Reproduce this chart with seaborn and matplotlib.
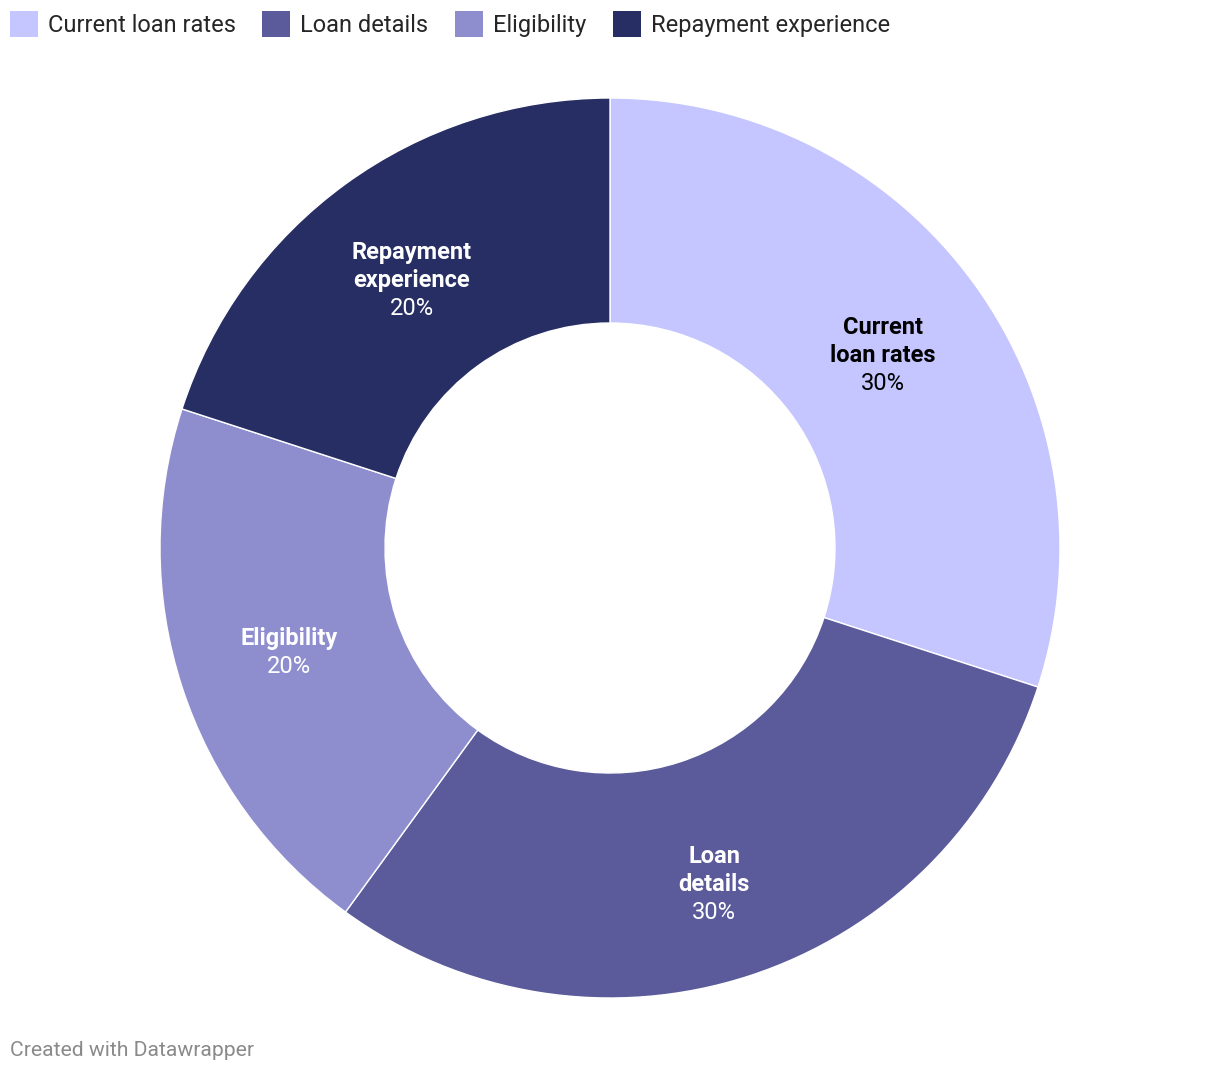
"""
Donut chart: what borrowers look for in loan information.
"""
import numpy as np
import matplotlib
matplotlib.use('Agg')
import matplotlib.pyplot as plt
import seaborn as sns

categories = ['Current loan rates', 'Loan details', 'Eligibility', 'Repayment experience']
label_lines = [['Current', 'loan rates'], ['Loan', 'details'], ['Eligibility'], ['Repayment', 'experience']]
shares = [30, 30, 20, 20]
colors = ['#c5c5ff', '#5b5b9b', '#8e8ecf', '#262e63']
text_colors = ['#000000', '#ffffff', '#ffffff', '#ffffff']

sns.set_theme(style='white')
plt.rcParams['font.family'] = ['Roboto', 'DejaVu Sans']

W, H = 1220, 1074
fig = plt.figure(figsize=(W / 100, H / 100), dpi=100)
fig.patch.set_facecolor('white')

# donut: centre (610, 548) px, outer radius 450 px
cx, cy, R = 610, 548, 450
ax = fig.add_axes([(cx - R) / W, (H - cy - R) / H, 2 * R / W, 2 * R / H])
wedges, _ = ax.pie(shares, colors=colors, startangle=90, counterclock=False,
                   radius=1.0, wedgeprops=dict(width=0.5, edgecolor='white', linewidth=1))
ax.set_xlim(-1, 1)
ax.set_ylim(-1, 1)
ax.set_aspect('equal')
ax.axis('off')

# small vertical nudges (px, + is up) so the labels sit where datawrapper puts them
nudge_px = {'Loan details': -10, 'Eligibility': 5}

line_gap = 28 * 0.72  # points
for w, cat, lines, share, tc in zip(wedges, categories, label_lines, shares, text_colors):
    ang = np.deg2rad((w.theta1 + w.theta2) / 2)
    x, y = 0.75 * np.cos(ang), 0.75 * np.sin(ang)
    all_lines = lines + [f'{share}%']
    n = len(all_lines)
    for i, txt in enumerate(all_lines):
        off = ((n - 1) / 2 - i) * line_gap - 4 + nudge_px.get(cat, 0) * 0.72
        ax.annotate(txt, (x, y), xytext=(0, off), textcoords='offset points',
                    ha='center', va='center', fontsize=17, color=tc,
                    fontweight='normal' if i == n - 1 else 'bold')

# legend along the top
handles = [plt.Rectangle((0, 0), 1, 1, facecolor=c, edgecolor='none') for c in colors]
fig.legend(handles, categories, loc='upper left', bbox_to_anchor=(10 / W, 1 - 11 / H), ncol=4,
           frameon=False, fontsize=17, handlelength=1.19, handleheight=1.3,
           handletextpad=0.42, columnspacing=1.12, borderaxespad=0, borderpad=0)

fig.text(10 / W, 1 - 1051 / H, 'Created with Datawrapper', ha='left', va='center',
         fontsize=15.2, color='#8a8a8a')

fig.savefig('out.png', dpi=100, facecolor='white')
